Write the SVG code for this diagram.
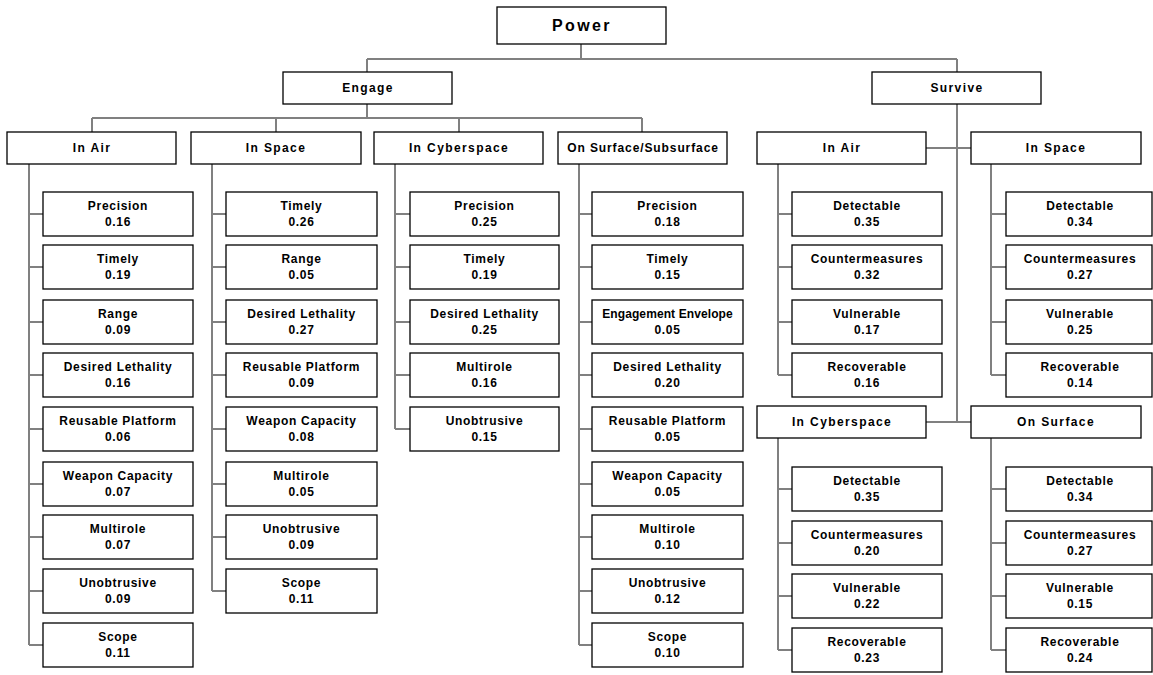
<svg xmlns="http://www.w3.org/2000/svg" width="1153" height="675" viewBox="0 0 1153 675">
<style>
.box{fill:#fff;stroke:#000;stroke-width:1.3}
.c{fill:none;stroke:#808080;stroke-width:2}
.t{font-family:"Liberation Sans",Arial,sans-serif;font-weight:bold;font-size:12px;text-anchor:middle;fill:#000;letter-spacing:0.7px}
.h{letter-spacing:1.4px}
.p{font-size:16px;letter-spacing:2.4px}
.n{letter-spacing:0.1px}
</style>
<rect width="1153" height="675" fill="#fff"/>
<g id="connectors">
<path class="c" d="M581,44V59M367,59H957M367,59V72M957,59V72"/>
<path class="c" d="M367,104V118M92,118H642M92,118V132M276,118V132M459,118V132M642,118V132"/>
<path class="c" d="M957,104V422M926,148H971M926,422H971"/>
<path class="c" d="M29,164V645M29,214H43M29,267H43M29,322H43M29,375H43M29,429H43M29,484H43M29,537H43M29,591H43M29,645H43"/>
<path class="c" d="M212,164V591M212,214H226M212,267H226M212,322H226M212,375H226M212,429H226M212,484H226M212,537H226M212,591H226"/>
<path class="c" d="M395,164V429M395,214H410M395,267H410M395,322H410M395,375H410M395,429H410"/>
<path class="c" d="M579,164V645M579,214H592M579,267H592M579,322H592M579,375H592M579,429H592M579,484H592M579,537H592M579,591H592M579,645H592"/>
<path class="c" d="M778,164V375M778,214H792M778,267H792M778,322H792M778,375H792"/>
<path class="c" d="M991,164V375M991,214H1006M991,267H1006M991,322H1006M991,375H1006"/>
<path class="c" d="M778,438V650M778,489H792M778,543H792M778,596H792M778,650H792"/>
<path class="c" d="M991,438V650M991,489H1006M991,543H1006M991,596H1006M991,650H1006"/>
</g>
<g id="power"><rect class="box" x="497" y="7" width="169" height="37"/><text class="t p" x="582" y="31">Power</text></g>
<g id="engage"><rect class="box" x="283" y="72" width="169" height="32"/><text class="t h" x="368" y="92">Engage</text></g>
<g id="survive"><rect class="box" x="872" y="72" width="169" height="32"/><text class="t h" x="957" y="92">Survive</text></g>

<g id="e-air"><rect class="box" x="7" y="132" width="169" height="32"/><text class="t h" x="92" y="152">In Air</text></g>
<g id="e-space"><rect class="box" x="191" y="132" width="170" height="32"/><text class="t h" x="276" y="152">In Space</text></g>
<g id="e-cyber"><rect class="box" x="374" y="132" width="169" height="32"/><text class="t h" x="459" y="152">In Cyberspace</text></g>
<g id="e-surface"><rect class="box" x="558" y="132" width="169" height="32"/><text class="t" x="643" y="152" style="letter-spacing:0.9px">On Surface/Subsurface</text></g>
<g id="s-air"><rect class="box" x="757" y="132" width="169" height="32"/><text class="t h" x="842" y="152">In Air</text></g>
<g id="s-space"><rect class="box" x="971" y="132" width="170" height="32"/><text class="t h" x="1056" y="152">In Space</text></g>
<g id="s-cyber"><rect class="box" x="757" y="406" width="169" height="32"/><text class="t h" x="842" y="426">In Cyberspace</text></g>
<g id="s-surface"><rect class="box" x="971" y="406" width="170" height="32"/><text class="t h" x="1056" y="426">On Surface</text></g>

<g id="ea1"><rect class="box" x="43" y="192" width="150" height="44"/><text class="t" x="118" y="210">Precision</text><text class="t" x="118" y="226">0.16</text></g>
<g id="ea2"><rect class="box" x="43" y="245" width="150" height="44"/><text class="t" x="118" y="263">Timely</text><text class="t" x="118" y="279">0.19</text></g>
<g id="ea3"><rect class="box" x="43" y="300" width="150" height="44"/><text class="t" x="118" y="318">Range</text><text class="t" x="118" y="334">0.09</text></g>
<g id="ea4"><rect class="box" x="43" y="353" width="150" height="44"/><text class="t" x="118" y="371">Desired Lethality</text><text class="t" x="118" y="387">0.16</text></g>
<g id="ea5"><rect class="box" x="43" y="407" width="150" height="44"/><text class="t" x="118" y="425">Reusable Platform</text><text class="t" x="118" y="441">0.06</text></g>
<g id="ea6"><rect class="box" x="43" y="462" width="150" height="44"/><text class="t" x="118" y="480">Weapon Capacity</text><text class="t" x="118" y="496">0.07</text></g>
<g id="ea7"><rect class="box" x="43" y="515" width="150" height="44"/><text class="t" x="118" y="533">Multirole</text><text class="t" x="118" y="549">0.07</text></g>
<g id="ea8"><rect class="box" x="43" y="569" width="150" height="44"/><text class="t" x="118" y="587">Unobtrusive</text><text class="t" x="118" y="603">0.09</text></g>
<g id="ea9"><rect class="box" x="43" y="623" width="150" height="44"/><text class="t" x="118" y="641">Scope</text><text class="t" x="118" y="657">0.11</text></g>

<g id="es1"><rect class="box" x="226" y="192" width="151" height="44"/><text class="t" x="301.5" y="210">Timely</text><text class="t" x="301.5" y="226">0.26</text></g>
<g id="es2"><rect class="box" x="226" y="245" width="151" height="44"/><text class="t" x="301.5" y="263">Range</text><text class="t" x="301.5" y="279">0.05</text></g>
<g id="es3"><rect class="box" x="226" y="300" width="151" height="44"/><text class="t" x="301.5" y="318">Desired Lethality</text><text class="t" x="301.5" y="334">0.27</text></g>
<g id="es4"><rect class="box" x="226" y="353" width="151" height="44"/><text class="t" x="301.5" y="371">Reusable Platform</text><text class="t" x="301.5" y="387">0.09</text></g>
<g id="es5"><rect class="box" x="226" y="407" width="151" height="44"/><text class="t" x="301.5" y="425">Weapon Capacity</text><text class="t" x="301.5" y="441">0.08</text></g>
<g id="es6"><rect class="box" x="226" y="462" width="151" height="44"/><text class="t" x="301.5" y="480">Multirole</text><text class="t" x="301.5" y="496">0.05</text></g>
<g id="es7"><rect class="box" x="226" y="515" width="151" height="44"/><text class="t" x="301.5" y="533">Unobtrusive</text><text class="t" x="301.5" y="549">0.09</text></g>
<g id="es8"><rect class="box" x="226" y="569" width="151" height="44"/><text class="t" x="301.5" y="587">Scope</text><text class="t" x="301.5" y="603">0.11</text></g>

<g id="ec1"><rect class="box" x="410" y="192" width="149" height="44"/><text class="t" x="484.5" y="210">Precision</text><text class="t" x="484.5" y="226">0.25</text></g>
<g id="ec2"><rect class="box" x="410" y="245" width="149" height="44"/><text class="t" x="484.5" y="263">Timely</text><text class="t" x="484.5" y="279">0.19</text></g>
<g id="ec3"><rect class="box" x="410" y="300" width="149" height="44"/><text class="t" x="484.5" y="318">Desired Lethality</text><text class="t" x="484.5" y="334">0.25</text></g>
<g id="ec4"><rect class="box" x="410" y="353" width="149" height="44"/><text class="t" x="484.5" y="371">Multirole</text><text class="t" x="484.5" y="387">0.16</text></g>
<g id="ec5"><rect class="box" x="410" y="407" width="149" height="44"/><text class="t" x="484.5" y="425">Unobtrusive</text><text class="t" x="484.5" y="441">0.15</text></g>

<g id="eo1"><rect class="box" x="592" y="192" width="151" height="44"/><text class="t" x="667.5" y="210">Precision</text><text class="t" x="667.5" y="226">0.18</text></g>
<g id="eo2"><rect class="box" x="592" y="245" width="151" height="44"/><text class="t" x="667.5" y="263">Timely</text><text class="t" x="667.5" y="279">0.15</text></g>
<g id="eo3"><rect class="box" x="592" y="300" width="151" height="44"/><text class="t n" x="667.5" y="318">Engagement Envelope</text><text class="t" x="667.5" y="334">0.05</text></g>
<g id="eo4"><rect class="box" x="592" y="353" width="151" height="44"/><text class="t" x="667.5" y="371">Desired Lethality</text><text class="t" x="667.5" y="387">0.20</text></g>
<g id="eo5"><rect class="box" x="592" y="407" width="151" height="44"/><text class="t" x="667.5" y="425">Reusable Platform</text><text class="t" x="667.5" y="441">0.05</text></g>
<g id="eo6"><rect class="box" x="592" y="462" width="151" height="44"/><text class="t" x="667.5" y="480">Weapon Capacity</text><text class="t" x="667.5" y="496">0.05</text></g>
<g id="eo7"><rect class="box" x="592" y="515" width="151" height="44"/><text class="t" x="667.5" y="533">Multirole</text><text class="t" x="667.5" y="549">0.10</text></g>
<g id="eo8"><rect class="box" x="592" y="569" width="151" height="44"/><text class="t" x="667.5" y="587">Unobtrusive</text><text class="t" x="667.5" y="603">0.12</text></g>
<g id="eo9"><rect class="box" x="592" y="623" width="151" height="44"/><text class="t" x="667.5" y="641">Scope</text><text class="t" x="667.5" y="657">0.10</text></g>

<g id="sa1"><rect class="box" x="792" y="192" width="150" height="44"/><text class="t" x="867" y="210">Detectable</text><text class="t" x="867" y="226">0.35</text></g>
<g id="sa2"><rect class="box" x="792" y="245" width="150" height="44"/><text class="t" x="867" y="263">Countermeasures</text><text class="t" x="867" y="279">0.32</text></g>
<g id="sa3"><rect class="box" x="792" y="300" width="150" height="44"/><text class="t" x="867" y="318">Vulnerable</text><text class="t" x="867" y="334">0.17</text></g>
<g id="sa4"><rect class="box" x="792" y="353" width="150" height="44"/><text class="t" x="867" y="371">Recoverable</text><text class="t" x="867" y="387">0.16</text></g>

<g id="ss1"><rect class="box" x="1006" y="192" width="146" height="44"/><text class="t" x="1080" y="210">Detectable</text><text class="t" x="1080" y="226">0.34</text></g>
<g id="ss2"><rect class="box" x="1006" y="245" width="146" height="44"/><text class="t" x="1080" y="263">Countermeasures</text><text class="t" x="1080" y="279">0.27</text></g>
<g id="ss3"><rect class="box" x="1006" y="300" width="146" height="44"/><text class="t" x="1080" y="318">Vulnerable</text><text class="t" x="1080" y="334">0.25</text></g>
<g id="ss4"><rect class="box" x="1006" y="353" width="146" height="44"/><text class="t" x="1080" y="371">Recoverable</text><text class="t" x="1080" y="387">0.14</text></g>

<g id="sc1"><rect class="box" x="792" y="467" width="150" height="44"/><text class="t" x="867" y="485">Detectable</text><text class="t" x="867" y="501">0.35</text></g>
<g id="sc2"><rect class="box" x="792" y="521" width="150" height="44"/><text class="t" x="867" y="539">Countermeasures</text><text class="t" x="867" y="555">0.20</text></g>
<g id="sc3"><rect class="box" x="792" y="574" width="150" height="44"/><text class="t" x="867" y="592">Vulnerable</text><text class="t" x="867" y="608">0.22</text></g>
<g id="sc4"><rect class="box" x="792" y="628" width="150" height="44"/><text class="t" x="867" y="646">Recoverable</text><text class="t" x="867" y="662">0.23</text></g>

<g id="so1"><rect class="box" x="1006" y="467" width="146" height="44"/><text class="t" x="1080" y="485">Detectable</text><text class="t" x="1080" y="501">0.34</text></g>
<g id="so2"><rect class="box" x="1006" y="521" width="146" height="44"/><text class="t" x="1080" y="539">Countermeasures</text><text class="t" x="1080" y="555">0.27</text></g>
<g id="so3"><rect class="box" x="1006" y="574" width="146" height="44"/><text class="t" x="1080" y="592">Vulnerable</text><text class="t" x="1080" y="608">0.15</text></g>
<g id="so4"><rect class="box" x="1006" y="628" width="146" height="44"/><text class="t" x="1080" y="646">Recoverable</text><text class="t" x="1080" y="662">0.24</text></g>
</svg>
